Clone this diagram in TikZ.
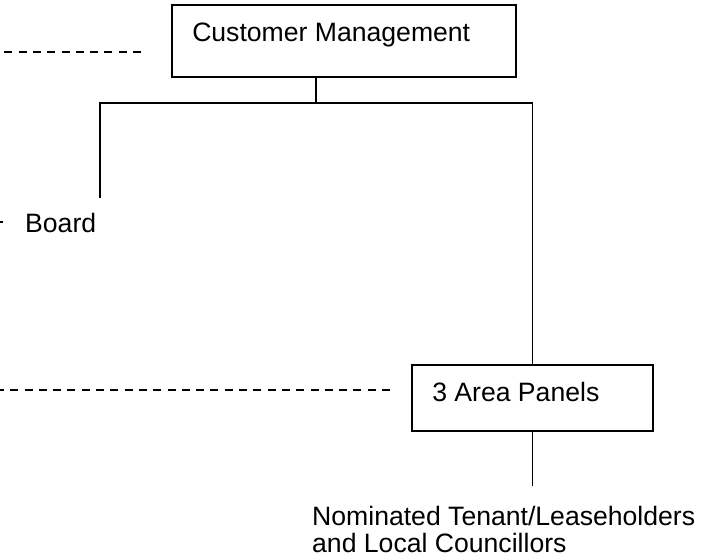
\documentclass[tikz,border=0pt]{standalone}
\usepackage{fontspec}
\setmainfont{Liberation Sans}
\usetikzlibrary{positioning}
\tikzset{
  panelbox/.style={draw, line width=1.9pt, inner sep=0pt},
  lbl/.style={inner sep=0pt, font=\fontsize{26.6}{26.5}\selectfont},
  link/.style={line width=1.9pt},
  dashlink/.style={line width=2pt, dash pattern=on 8pt off 6.3pt},
}

\begin{document}
\begin{tikzpicture}[x=1pt, y=-1pt]
    \useasboundingbox (0,0) rectangle (717,556);
    % boxes
    \node[panelbox, minimum width=344pt, minimum height=72pt] (cm) at (344,41) {};
    \node[lbl, anchor=base west] (cmlbl) at ([shift={(21,37)}]cm.north west) {Customer Management};
    \node[panelbox, minimum width=241pt, minimum height=66pt] (panels) at (532.5,398) {};
    \node[lbl, anchor=base west] (panelslbl) at ([shift={(21,37)}]panels.north west) {3 Area Panels};
    \node[lbl, anchor=base west] (board) at (25,232) {Board};
    \node[lbl, anchor=north west, align=left] (nominees) at (312,506.5)
      {Nominated Tenant/Leaseholders\\and Local Councillors};
    % tree lines
    \coordinate (drop) at ([xshift=-28pt]cm.south);
    \coordinate (boardend) at (100,198);
    \draw[link] (drop) -- ++(0,25) coordinate (split);
    \draw[link] (boardend) |- (split) -| (panels.north);
    \draw[link] (panels.south) -- ++(0,54) coordinate (nomtop);
    % dashed links
    \coordinate (topdash) at (141,52);
    \coordinate (topdashend) at (0,52);
    \coordinate (middash) at (390,390);
    \coordinate (middashend) at (0,390);
    \coordinate (boardtick) at (2.5,222);
    \coordinate (boardtickend) at (0,222);
    \draw[dashlink] (topdash) -- (topdashend);
    \draw[dashlink] (middash) -- (middashend);
    \draw[link] (boardtick) -- (boardtickend);
\end{tikzpicture}
\end{document}
